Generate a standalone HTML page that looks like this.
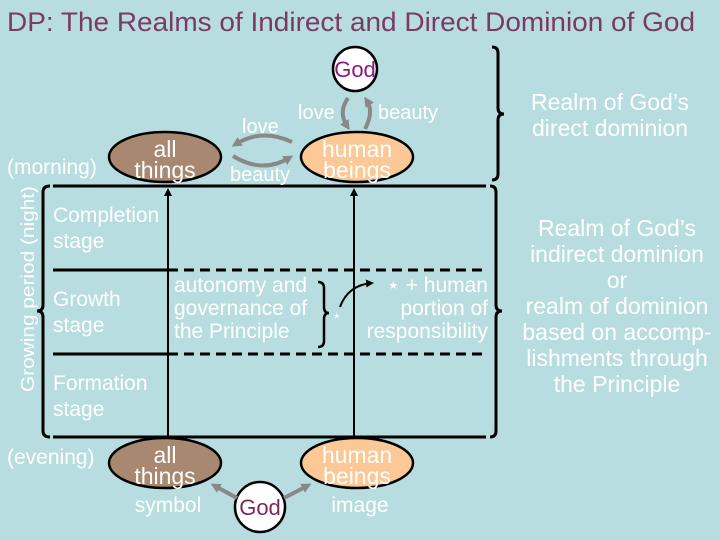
<!DOCTYPE html>
<html><head><meta charset="utf-8"><style>
html,body{margin:0;padding:0;background:#b8dde1;}
svg{display:block;font-family:"Liberation Sans",sans-serif;}
.w{fill:#fff;}
</style></head><body>
<svg width="720" height="540" viewBox="0 0 720 540">
<defs>
<marker id="ga" markerWidth="10" markerHeight="10" refX="5" refY="5" orient="auto" markerUnits="userSpaceOnUse"><path d="M0,0 L10,5 L0,10 z" fill="#888"/></marker>
<marker id="ka" markerWidth="8" markerHeight="8" refX="6" refY="4" orient="auto" markerUnits="userSpaceOnUse"><path d="M0,0 L8,4 L0,8 z" fill="#000"/></marker>
</defs>
<rect width="720" height="540" fill="#b8dde1"/>
<text x="7" y="31" font-size="27" fill="#7a3b62" textLength="688" lengthAdjust="spacingAndGlyphs">DP: The Realms of Indirect and Direct Dominion of God</text>

<g stroke="#000" stroke-width="3" fill="none">
<line x1="53" y1="186" x2="486" y2="186"/>
<line x1="53" y1="437" x2="486" y2="437"/>
<line x1="53" y1="270" x2="168" y2="270"/>
<line x1="53" y1="354" x2="168" y2="354"/>
<line x1="168" y1="270" x2="488" y2="270" stroke-dasharray="10,6"/>
<line x1="168" y1="354" x2="488" y2="354" stroke-dasharray="10,6"/>
<path d="M50,186 Q43,186 43,192 L43,305 Q43,311 37,311 Q43,311 43,317 L43,431 Q43,437 50,437"/>
<path d="M490,186 Q496,186 496,192 L496,305 Q496,311 502,311 Q496,311 496,317 L496,431 Q496,437 490,437"/>
<path d="M492,47 Q498,47 498,53 L498,108 Q498,114 504,114 Q498,114 498,120 L498,174 Q498,180 492,180"/>
<path d="M318,282 Q324,282 324,288 L324,307 Q324,313 329,313 Q324,313 324,319 L324,341 Q324,347 318,347" stroke-width="2.5"/>
</g>
<g stroke="#000" stroke-width="2">
<line x1="168" y1="437" x2="168" y2="190" marker-end="url(#ka)"/>
<line x1="354" y1="437" x2="354" y2="190" marker-end="url(#ka)"/>
</g>
<path d="M340,307 Q348,285 372,283" stroke="#000" stroke-width="2" fill="none" marker-end="url(#ka)"/>

<text transform="translate(34,392) rotate(-90)" font-size="18" class="w" textLength="206" lengthAdjust="spacingAndGlyphs">Growing period (night)</text>
<text x="7" y="174" font-size="21" class="w">(morning)</text>
<text x="7" y="464" font-size="21" class="w">(evening)</text>
<g font-size="21" class="w">
<text x="53" y="222">Completion</text><text x="53" y="248">stage</text>
<text x="53" y="306">Growth</text><text x="53" y="332">stage</text>
<text x="53" y="390">Formation</text><text x="53" y="416">stage</text>
<text x="174" y="292">autonomy and</text><text x="174" y="315">governance of</text><text x="174" y="338">the Principle</text>
<text x="334" y="323" font-size="14">*</text>
<text x="488" y="292" text-anchor="end">⋆ + human</text><text x="488" y="315" text-anchor="end">portion of</text><text x="488" y="338" text-anchor="end">responsibility</text>
</g>

<ellipse cx="165" cy="157" rx="56" ry="25" fill="#a88870" stroke="#000" stroke-width="2.5"/>
<text x="165" y="157" font-size="23" class="w" text-anchor="middle">all</text>
<text x="165" y="178" font-size="23" class="w" text-anchor="middle">things</text>
<ellipse cx="357" cy="157" rx="56" ry="25" fill="#fcc896" stroke="#000" stroke-width="2.5"/>
<text x="357" y="157" font-size="23" class="w" text-anchor="middle">human</text>
<text x="357" y="178" font-size="23" class="w" text-anchor="middle">beings</text>
<circle cx="355" cy="69" r="22" fill="#fff" stroke="#000" stroke-width="2.5"/>
<text x="355" y="77" font-size="22" fill="#8b1a7a" text-anchor="middle">God</text>

<g stroke="#888" stroke-width="4" fill="none">
<path d="M292,142 Q262,128 236,144" marker-end="url(#ga)"/>
<path d="M233,156 Q262,174 289,158" marker-end="url(#ga)"/>
<path d="M348,98 Q338,112 347,126" marker-end="url(#ga)"/>
<path d="M365,129 Q374,112 367,101" marker-end="url(#ga)"/>
</g>
<g font-size="20" class="w">
<text x="242" y="133">love</text>
<text x="230" y="181">beauty</text>
<text x="298" y="119">love</text>
<text x="378" y="119">beauty</text>
</g>

<ellipse cx="165" cy="463" rx="56" ry="25" fill="#a88870" stroke="#000" stroke-width="2.5"/>
<text x="165" y="463" font-size="23" class="w" text-anchor="middle">all</text>
<text x="165" y="484" font-size="23" class="w" text-anchor="middle">things</text>
<ellipse cx="357" cy="463" rx="56" ry="25" fill="#fcc896" stroke="#000" stroke-width="2.5"/>
<text x="357" y="463" font-size="23" class="w" text-anchor="middle">human</text>
<text x="357" y="484" font-size="23" class="w" text-anchor="middle">beings</text>
<circle cx="260" cy="507" r="25" fill="#fff" stroke="#000" stroke-width="2.5"/>
<text x="260" y="515" font-size="22" fill="#7a2a5a" text-anchor="middle">God</text>
<g stroke="#888" stroke-width="4">
<line x1="237" y1="498" x2="215" y2="486" marker-end="url(#ga)"/>
<line x1="284" y1="498" x2="307" y2="486" marker-end="url(#ga)"/>
</g>
<text x="168" y="512" font-size="21" class="w" text-anchor="middle">symbol</text>
<text x="360" y="512" font-size="21" class="w" text-anchor="middle">image</text>

<g font-size="23" class="w" text-anchor="middle">
<text x="610" y="110">Realm of God’s</text>
<text x="610" y="136">direct dominion</text>
<text x="617" y="236">Realm of God’s</text>
<text x="617" y="262">indirect dominion</text>
<text x="617" y="288">or</text>
<text x="617" y="314">realm of dominion</text>
<text x="617" y="340">based on accomp-</text>
<text x="617" y="366">lishments through</text>
<text x="617" y="392">the Principle</text>
</g>
</svg>
</body></html>
